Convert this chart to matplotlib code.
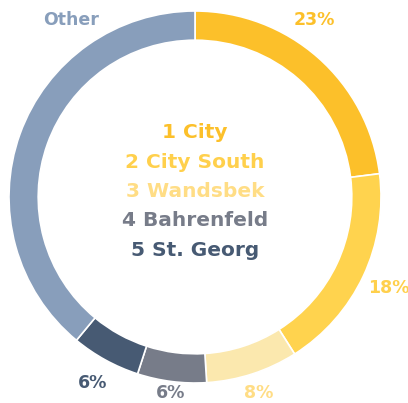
import matplotlib
matplotlib.use("Agg")
from matplotlib import pyplot as plt
import numpy as np

# district shares in percent (clockwise from 12 o'clock)
districts = ["1 City", "2 City South", "3 Wandsbek", "4 Bahrenfeld", "5 St. Georg", "Other"]
shares = [23, 18, 8, 6, 6, 39]
labels = ["23%", "18%", "8%", "6%", "6%", "Other"]
colors = ["#fcc02a", "#ffd34e", "#fbe8ae", "#777c89", "#475a73", "#889ebb"]
text_colors = ["#fcc02a", "#ffd04c", "#ffdd85", "#777c89", "#475a73", "#889ebb"]

plt.rcParams["font.family"] = ["DejaVu Sans"]

fig = plt.figure(figsize=(4.08, 4.03), dpi=100)
ax = fig.add_axes([0, 0, 1, 1])
ax.axis("off")

ax.pie(shares, colors=colors, startangle=90, counterclock=False, radius=1.0,
       wedgeprops=dict(width=0.157, edgecolor="white", linewidth=1.2))

# center of ring at (195, 197) px, outer radius 186 px
R = 186.0
cx, cy = 195.0, 197.0
ax.set_aspect("auto")
ax.set_xlim(-cx / R, (408 - cx) / R)
ax.set_ylim(-(403 - cy) / R, cy / R)

# percentage labels outside the ring
edges = np.cumsum([0] + shares) / 100.0 * 360
mids = (edges[:-1] + edges[1:]) / 2
mids[0] = 34  # first label sits nearer the top
mids[-1] = 325  # "Other" sits up top-left
radii = [1.15, 1.15, 1.11, 1.06, 1.14, 1.16]
for lab, ang, r, c in zip(labels, mids, radii, text_colors):
    t = np.deg2rad(ang)
    ax.text(r * np.sin(t), r * np.cos(t), lab, color=c, fontsize=12.5,
            fontweight="bold", ha="center", va="center")

# ranking in the middle
for i, (name, c) in enumerate(zip(districts[:5], text_colors[:5])):
    ax.text(0, 0.345 - i * 0.158, name, color=c, fontsize=14.5,
            fontweight="bold", ha="center", va="center")

fig.savefig("out.png", dpi=100)
